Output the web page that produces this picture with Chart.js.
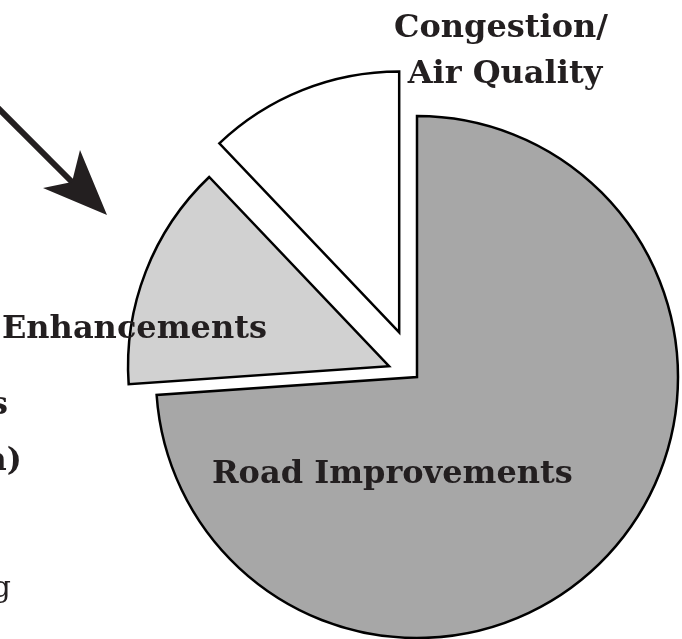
<!DOCTYPE html>
<html>
<head>
<meta charset="utf-8">
<script src="https://cdn.jsdelivr.net/npm/chart.js@4/dist/chart.umd.min.js"></script>
<style>
  html, body { margin: 0; padding: 0; background: #fff; }
  #wrap { width: 682px; height: 639px; }
</style>
</head>
<body>
<div id="wrap"><canvas id="program-pie" width="682" height="639"></canvas></div>
<script>
// program shares (clockwise from 12 o'clock)
const categories = ["Road Improvements", "Enhancements", "Congestion/Air Quality"];
const shares = [73.9, 14.0, 12.1];

// slice look
const sliceColors = ["#a7a7a7", "#d1d1d1", "#ffffff"];
const explodeBy = [0, 30, 48]; // px pulled out along each slice's middle
const inkColor = "#231f20";

// text drawn on top of the pie
const labelFont = "'DejaVu Serif', serif";

// pie whose slices are pulled out without the rounded inner cut of the
// built-in `offset` option, so every slice keeps a sharp point
class ExplodedPie extends Chart.PieController {
    draw() {
        const ctx = this.chart.ctx;
        const area = this.chart.chartArea;
        this._cachedMeta.data.forEach((arc, i) => {
            const mid = (arc.startAngle + arc.endAngle) / 2;
            const d = explodeBy[i] || 0;
            ctx.save();
            ctx.translate(Math.cos(mid) * d, Math.sin(mid) * d);
            arc.draw(ctx, area);
            ctx.restore();
        });
    }
}
ExplodedPie.id = "explodedPie";
Chart.register(ExplodedPie);

const labelsPlugin = {
    id: "pieLabels",
    afterDraw(chart) {
        const ctx = chart.ctx;
        ctx.save();

        // size the bold labels so "Congestion/" is as wide as in the print
        ctx.font = "bold 32px " + labelFont;
        const size = Math.round(32 * 212 / ctx.measureText("Congestion/").width);
        ctx.font = "bold " + size + "px " + labelFont;
        ctx.fillStyle = inkColor;
        ctx.textBaseline = "alphabetic";

        ctx.textAlign = "center";
        ctx.fillText("Congestion/", 501, 37);
        ctx.fillText("Air Quality", 505, 83);

        ctx.textAlign = "right";
        ctx.fillText("Enhancements", 267, 338);

        ctx.textAlign = "left";
        ctx.fillText("Road Improvements", 212, 483);

        // side text, mostly cut off by the left edge
        ctx.textAlign = "right";
        ctx.fillText("Programs", 8, 414);
        ctx.fillText("(in million)", 22, 470);
        ctx.font = "30px " + labelFont;
        ctx.fillText("Funding", 11, 597);

        // pointer arrow
        ctx.fillStyle = inkColor;
        ctx.strokeStyle = inkColor;
        ctx.lineWidth = 6;
        ctx.beginPath();
        ctx.moveTo(-5, 105);
        ctx.lineTo(74, 184);
        ctx.stroke();
        ctx.beginPath();
        ctx.moveTo(107, 215);
        ctx.lineTo(80, 150);
        ctx.lineTo(72, 182);
        ctx.lineTo(43, 188);
        ctx.closePath();
        ctx.fill();

        ctx.restore();
    }
};

new Chart(document.getElementById("program-pie"), {
    type: "explodedPie",
    data: {
        labels: categories,
        datasets: [{
            data: shares,
            backgroundColor: sliceColors,
            borderColor: "#000000",
            borderWidth: 2.5,
            borderJoinStyle: "miter",
            radius: 261,
            clip: false
        }]
    },
    options: {
        responsive: false,
        animation: false,
        layout: { padding: { left: 152, top: 115, right: 0, bottom: 0 } },
        plugins: {
            legend: { display: false },
            tooltip: { enabled: false }
        }
    },
    plugins: [labelsPlugin]
});
</script>
</body>
</html>
